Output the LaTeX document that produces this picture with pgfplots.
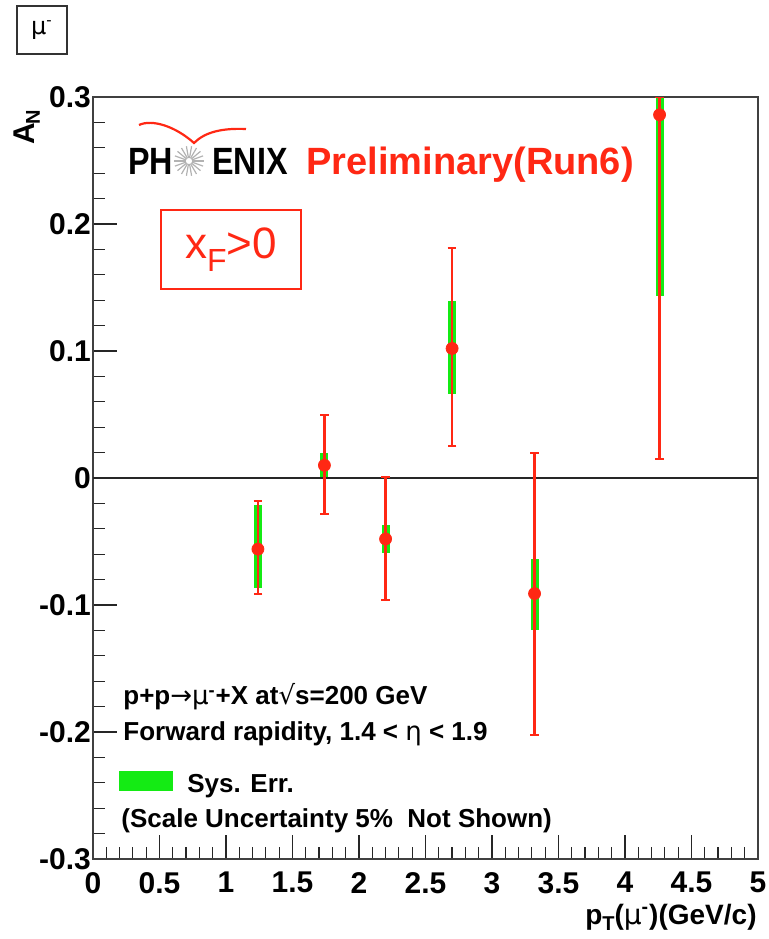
\documentclass[border=0pt]{standalone}
\usepackage{fontspec}
\setmainfont{Liberation Sans}
\newfontfamily\sym{DejaVu Sans}
\usepackage{pgfplots}
\pgfplotsset{compat=1.18}

\definecolor{phred}{RGB}{255,40,20}
\definecolor{sysgreen}{RGB}{20,235,20}

\begin{document}
\begin{tikzpicture}
\begin{axis}[
    scale only axis,
    width=332.5pt, height=381pt,
    xmin=0, xmax=5, ymin=-0.3, ymax=0.3,
    axis line style={black!75, line width=0.8pt},
    xtick={0,0.5,1,1.5,2,2.5,3,3.5,4,4.5,5},
    ytick={-0.3,-0.2,-0.1,0,0.1,0.2,0.3},
    minor x tick num=4, minor y tick num=4,
    xtick pos=bottom, ytick pos=left,
    tick align=inside,
    major tick length=12pt, minor tick length=6pt,
    tick style={black!85, line width=0.6pt},
    ticklabel style={font=\bfseries\fontsize{15}{15}\selectfont},
    /pgf/number format/assume math mode=true,
    xticklabel style={yshift=-3pt},
    yticklabel style={xshift=2.5pt, /pgf/number format/fixed, /pgf/number format/precision=1},
]

% zero line
\addplot[black!85, line width=0.8pt] coordinates {(0,0) (5,0)};

% systematic errors
\addplot[only marks, mark=none,
    error bars/.cd, y dir=both, y explicit, error mark=none,
    error bar style={line width=4pt, sysgreen}]
coordinates {
    (1.24,-0.056) += (0,0.035) -= (0,0.031)
    (1.74,0.010)  += (0,0.010) -= (0,0.009)
    (2.20,-0.048) += (0,0.011) -= (0,0.011)
    (2.70,0.102)  += (0,0.037) -= (0,0.036)
    (3.32,-0.091) += (0,0.027) -= (0,0.029)
    (4.26,0.286)  += (0,0.143) -= (0,0.143)
};

% statistical errors
\addplot[only marks, mark=*, mark size=3pt, color=phred,
    error bars/.cd, y dir=both, y explicit,
    error mark options={rotate=90, phred, mark size=2.2pt, line width=1pt},
    error bar style={line width=1.3pt, phred}]
coordinates {
    (1.24,-0.056) += (0,0.038) -= (0,0.035)
    (1.74,0.010)  += (0,0.040) -= (0,0.038)
    (2.20,-0.048) += (0,0.049) -= (0,0.048)
    (2.70,0.102)  += (0,0.079) -= (0,0.077)
    (3.32,-0.091) += (0,0.111) -= (0,0.111)
    (4.26,0.286)  += (0,0.014) -= (0,0.271)
};
\end{axis}

% annotations, in pixel units of the reference
\begin{scope}[x=0.5pt, y=-0.5pt, shift={(current axis.south west)}, shift={(-93,-859)}]
  \node[draw=black!80, line width=0.8pt, minimum width=25pt, minimum height=24pt, inner sep=0pt]
    at (42,30) {\fontsize{12}{12}\selectfont{\sym μ}\textsuperscript{-}};

  \node[rotate=90, anchor=base east, inner sep=0pt, font=\bfseries\fontsize{15}{15}\selectfont]
    at (35,110) {A\kern-1pt\raisebox{-2.5pt}{\fontsize{10}{10}\selectfont N}};
  \node[anchor=base east, inner sep=0pt, font=\bfseries\fontsize{14}{14}\selectfont]
    at (757,924) {p\raisebox{-3pt}{\fontsize{10}{10}\selectfont T}({\sym\mdseries μ}\textsuperscript{-})(GeV/c)};

  % PHENIX logo
  \draw[phred, line width=1.1pt] (139,125) .. controls (152,119) and (175,126) .. (194,143)
        .. controls (205,132) and (222,128) .. (246,129);
  \node[anchor=base west, inner sep=0pt, font=\bfseries\fontsize{19}{19}\selectfont] at (128,175) {\scalebox{0.85}[1]{PH}};
  \node[anchor=base east, inner sep=0pt, font=\bfseries\fontsize{19}{19}\selectfont] at (288,175) {\scalebox{0.85}[1]{ENIX}};
  \foreach \a in {0,20,...,340}
    \draw[gray!60, line width=0.6pt] (189,161) ++(\a:3) -- ++(\a:12);
  \node[anchor=base west, inner sep=0pt, text=phred, font=\bfseries\fontsize{19}{19}\selectfont]
    at (306,175) {Preliminary(Run6)};

  \node[draw=phred, line width=1pt, minimum width=70pt, minimum height=39.5pt, text=phred]
    at (231,249.5) {\fontsize{22}{22}\selectfont x\raisebox{-0.28em}{\fontsize{16}{16}\selectfont F}>0};

  \begin{scope}[every node/.style={anchor=base west, inner sep=0pt, font=\bfseries\fontsize{13}{13}\selectfont}]
    \node at (123,705) {p+p{\sym\mdseries →μ}\textsuperscript{-}+X at{\sym\mdseries √}s=200 GeV};
    \node at (123,741) {Forward rapidity, 1.4 < {\sym\mdseries η} < 1.9};
    \fill[sysgreen] (119,771) rectangle (173,791);
    \node at (187,793) {Sys. Err.};
    \node at (121,827) {(Scale Uncertainty 5\%\ \ Not Shown)};
  \end{scope}

  \pgfresetboundingbox
  \path[use as bounding box] (0,0) rectangle (769,939);
\end{scope}
\end{tikzpicture}
\end{document}
